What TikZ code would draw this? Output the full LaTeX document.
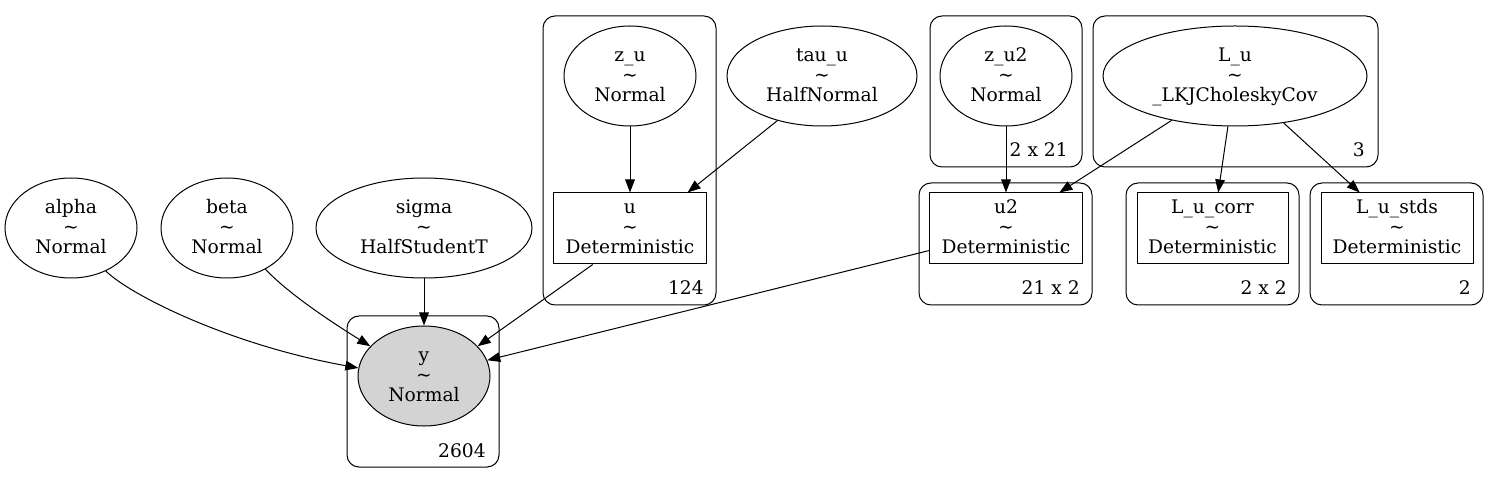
\documentclass[tikz,border=0pt]{standalone}
\usepackage{fontspec}
\setmainfont{DejaVu Serif}
\usetikzlibrary{shapes.geometric,arrows.meta}
\newcommand\gvfont{\fontsize{14}{15}\selectfont}
\newcommand\gvst{\rule[-3.4pt]{0pt}{15pt}}
\begin{document}
\begin{tikzpicture}[x=0.75pt,y=-0.75pt,
  rv/.style={draw,ellipse,inner sep=0pt,align=center,font=\gvfont,line width=0.75pt},
  det/.style={draw,rectangle,inner sep=0pt,align=center,font=\gvfont,line width=0.75pt,minimum height=53.25pt},
  plate/.style={draw,rounded corners=9pt,line width=0.75pt},
  platelabel/.style={anchor=base east,inner sep=0pt,font=\gvfont},
  edge/.style={-{Triangle[length=9.75pt,width=7.25pt]},line width=0.75pt}]
\useasboundingbox (0,0) rectangle (1499,484);
% plates
\draw[plate] (543,16) rectangle (716,305);
\draw[plate] (347,316) rectangle (499,467);
\draw[plate] (930,16) rectangle (1082,167);
\draw[plate] (1093,16) rectangle (1378,167);
\draw[plate] (919,183) rectangle (1092,305);
\draw[plate] (1126,183) rectangle (1299,305);
\draw[plate] (1310,183) rectangle (1483,305);
\node[platelabel] (l124) at (704,295) {124};
\node[platelabel] (l2604) at (486,457) {2604};
\node[platelabel] (l2x21) at (1068,157) {2 x 21};
\node[platelabel] (l3) at (1365,157) {3};
\node[platelabel] (l21x2) at (1080,295) {21 x 2};
\node[platelabel] (l2x2) at (1287,295) {2 x 2};
\node[platelabel] (l2) at (1471,295) {2};
% random variables
\node[rv,minimum width=99pt,minimum height=75pt] (alpha) at (71,228) {\gvst alpha\\\textasciitilde\\Normal\gvst};
\node[rv,minimum width=99pt,minimum height=75pt] (beta) at (227,228) {\gvst beta\\\textasciitilde\\Normal\gvst};
\node[rv,minimum width=162pt,minimum height=75pt] (sigma) at (424,228) {\gvst sigma\\\textasciitilde\\HalfStudentT\gvst};
\node[rv,minimum width=99pt,minimum height=75pt,fill={rgb,255:red,211;green,211;blue,211}] (y) at (424,376) {\gvst y\\\textasciitilde\\Normal\gvst};
\node[rv,minimum width=99pt,minimum height=75pt] (z_u) at (630,76) {\gvst z\_u\\\textasciitilde\\Normal\gvst};
\node[rv,minimum width=142.5pt,minimum height=75pt] (tau_u) at (822,76) {\gvst tau\_u\\\textasciitilde\\HalfNormal\gvst};
\node[rv,minimum width=99pt,minimum height=75pt] (z_u2) at (1006,76) {\gvst z\_u2\\\textasciitilde\\Normal\gvst};
\node[rv,minimum width=198pt,minimum height=75pt] (L_u) at (1235,76) {\gvst L\_u\\\textasciitilde\\\_LKJCholeskyCov\gvst};
% deterministics
\node[det,minimum width=114.75pt] (u) at (630,228.5) {\gvst u\\\textasciitilde\\Deterministic\gvst};
\node[det,minimum width=114.75pt] (u2) at (1006,228.5) {\gvst u2\\\textasciitilde\\Deterministic\gvst};
\node[det,minimum width=113.25pt] (L_u_corr) at (1212.5,228.5) {\gvst L\_u\_corr\\\textasciitilde\\Deterministic\gvst};
\node[det,minimum width=114pt] (L_u_stds) at (1397,228.5) {\gvst L\_u\_stds\\\textasciitilde\\Deterministic\gvst};
% edges
\draw[edge] (z_u) -- (u);
\draw[edge] (tau_u.225) -- (u.32);
\draw[edge] (u.224) -- (y.29);
\draw[edge] (u2.196) -- (y.14);
\draw[edge] (sigma) -- (y);
\draw[edge] (alpha.309) .. controls (130,295) and (230,345) .. (y.173);
\draw[edge] (beta.313) .. controls (285,290) and (320,315) .. (y.151);
\draw[edge] (z_u2) -- (u2);
\draw[edge] (L_u.215) -- (u2.34);
\draw[edge] (L_u.262) -- (L_u_corr.81);
\draw[edge] (L_u.316) -- (L_u_stds.136);
\end{tikzpicture}
\end{document}
